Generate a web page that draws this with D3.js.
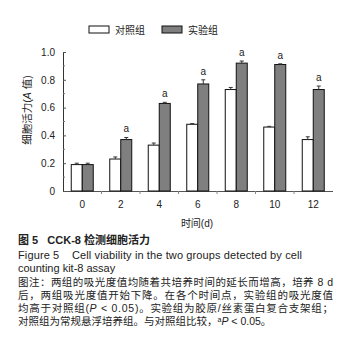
<!DOCTYPE html>
<html>
<head>
<meta charset="utf-8">
<script src="https://cdn.jsdelivr.net/npm/d3@7"></script>
<style>
  body { margin: 0; background: #fff; }
  text { font-family: "Liberation Sans", Arial, "Noto Sans CJK SC", sans-serif; fill: #222; }
  .cjk { font-family: "Liberation Sans", "Noto Sans CJK SC", sans-serif; }
</style>
</head>
<body>
<script>
const days = ['0', '2', '4', '6', '8', '10', '12']
const control = [0.19, 0.23, 0.33, 0.48, 0.73, 0.46, 0.37]
const controlErr = [0.01, 0.015, 0.015, 0.005, 0.015, 0.005, 0.02]
const exper = [0.19, 0.37, 0.63, 0.77, 0.92, 0.91, 0.73]
const experErr = [0.01, 0.015, 0.008, 0.03, 0.015, 0.005, 0.025]
const sig = ['', 'a', 'a', 'a', 'a', 'a', 'a']
const yTicks = [0, 0.2, 0.4, 0.6, 0.8, 1.0]
const yMinor = [0.1, 0.3, 0.5, 0.7, 0.9]
const groups = [
  { key: 'control', name: '对照组', values: control, err: controlErr, fill: '#fff' },
  { key: 'exper', name: '实验组', values: exper, err: experErr, fill: '#7f7f7f' }
]
const caption = [
  '图注：两组的吸光度值均随着共培养时间的延长而增高，培养 8 d',
  '后，两组吸光度值开始下降。在各个时间点，实验组的吸光度值',
  '均高于对照组(<i>P</i> < 0.05)。实验组为胶原/丝素蛋白复合支架组；',
  '对照组为常规悬浮培养组。与对照组比较，<sup>a</sup><i>P</i> < 0.05。'
]

const w = 350
const h = 363
const svg = d3.select('body').append('svg')
  .attr('width', w)
  .attr('height', h)

const x = d3.scaleBand().domain(days).range([63, 332.5]).padding(0)
const xSub = d3.scaleBand().domain(groups.map(g => g.key))
  .range([0, x.bandwidth()]).paddingInner(0).paddingOuter(0.75)
const y = d3.scaleLinear().domain([0, 1]).range([191, 52])

// y axis
const yAxis = svg.append('g')
  .attr('transform', 'translate(63,0)')
  .call(d3.axisLeft(y).tickValues(yTicks).tickSize(-3).tickPadding(8)
    .tickFormat(d => d === 0 ? '0' : d3.format('.1f')(d)))
yAxis.select('.domain').attr('stroke', '#333')
yAxis.selectAll('.tick line').attr('stroke', '#555')
yAxis.selectAll('text').style('font-size', '10px').attr('fill', '#222')
svg.append('g').selectAll('line').data(yMinor).join('line')
  .attr('x1', 63).attr('x2', 65)
  .attr('y1', d => y(d)).attr('y2', d => y(d))
  .attr('stroke', '#777')

// x axis
const xAxis = svg.append('g')
  .attr('transform', 'translate(0,191)')
  .call(d3.axisBottom(x).tickSize(0).tickPadding(10))
xAxis.select('.domain').attr('stroke', '#555').attr('d', 'M63,0.5H333')
xAxis.selectAll('text').style('font-size', '10px').attr('fill', '#222')
svg.append('g').selectAll('line').data(days.slice(1)).join('line')
  .attr('x1', d => x(d)).attr('x2', d => x(d))
  .attr('y1', 191).attr('y2', 194)
  .attr('stroke', '#888')

// bars
const gBars = svg.append('g').selectAll('g').data(days).join('g')
  .attr('transform', d => `translate(${x(d)},0)`)

groups.forEach(grp => {
  gBars.append('rect')
    .attr('x', xSub(grp.key))
    .attr('width', xSub.bandwidth())
    .attr('y', (d, i) => y(grp.values[i]))
    .attr('height', (d, i) => y(0) - y(grp.values[i]))
    .attr('fill', grp.fill)
    .attr('stroke', '#111')
    .attr('stroke-width', 1)

  // error bars (upper only)
  const cx = xSub(grp.key) + xSub.bandwidth() / 2
  gBars.append('line')
    .attr('x1', cx).attr('x2', cx)
    .attr('y1', (d, i) => y(grp.values[i]))
    .attr('y2', (d, i) => y(grp.values[i] + grp.err[i]))
    .attr('stroke', '#333')
  gBars.append('line')
    .attr('x1', cx - 2).attr('x2', cx + 2)
    .attr('y1', (d, i) => y(grp.values[i] + grp.err[i]))
    .attr('y2', (d, i) => y(grp.values[i] + grp.err[i]))
    .attr('stroke', '#333')
})

// significance marks
gBars.append('text')
  .attr('x', xSub('exper') + xSub.bandwidth() / 2)
  .attr('y', (d, i) => y(exper[i] + experErr[i]) - 5)
  .attr('text-anchor', 'middle')
  .style('font-size', '10px')
  .text((d, i) => sig[i])

// axis titles
svg.append('text')
  .attr('transform', 'translate(31,110) rotate(-90)')
  .attr('text-anchor', 'middle')
  .style('font-size', '10.5px')
  .html('细胞活力(<tspan font-style="italic">A</tspan> 值)')
svg.append('text')
  .attr('x', 197).attr('y', 227)
  .attr('text-anchor', 'middle')
  .style('font-size', '10px')
  .text('时间(d)')

// legend
const legend = svg.append('g').selectAll('g').data(groups).join('g')
  .attr('transform', (d, i) => `translate(${89 + i * 73},26)`)
legend.append('rect')
  .attr('width', 20).attr('height', 7)
  .attr('fill', d => d.fill)
  .attr('stroke', '#111')
legend.append('text')
  .attr('x', 26).attr('y', 7.5)
  .style('font-size', '10px')
  .text(d => d.name)

// caption
svg.append('text')
  .attr('x', 18).attr('y', 244)
  .style('font-size', '11px')
  .style('font-weight', 'bold')
  .style('white-space', 'pre')
  .text('图 5   CCK-8 检测细胞活力')
svg.append('text')
  .attr('x', 18).attr('y', 259)
  .style('font-size', '11px')
  .style('white-space', 'pre')
  .attr('textLength', 284).attr('lengthAdjust', 'spacing')
  .text('Figure 5    Cell viability in the two groups detected by cell')
svg.append('text')
  .attr('x', 18).attr('y', 272)
  .style('font-size', '11px')
  .text('counting kit-8 assay')

caption.forEach((line, i) => {
  const html = line
    .replace(/<i>/g, '<tspan font-style="italic">').replace(/<\/i>/g, '</tspan>')
    .replace(/<sup>/g, '<tspan font-size="7px" baseline-shift="super">').replace(/<\/sup>/g, '</tspan>')
  const t = svg.append('text')
    .attr('class', 'cjk')
    .attr('x', 18).attr('y', 286 + i * 13)
    .style('font-size', '10.5px')
    .html(html)
  if (i < 3) t.attr('textLength', 315).attr('lengthAdjust', 'spacing')
})
</script>
</body>
</html>
